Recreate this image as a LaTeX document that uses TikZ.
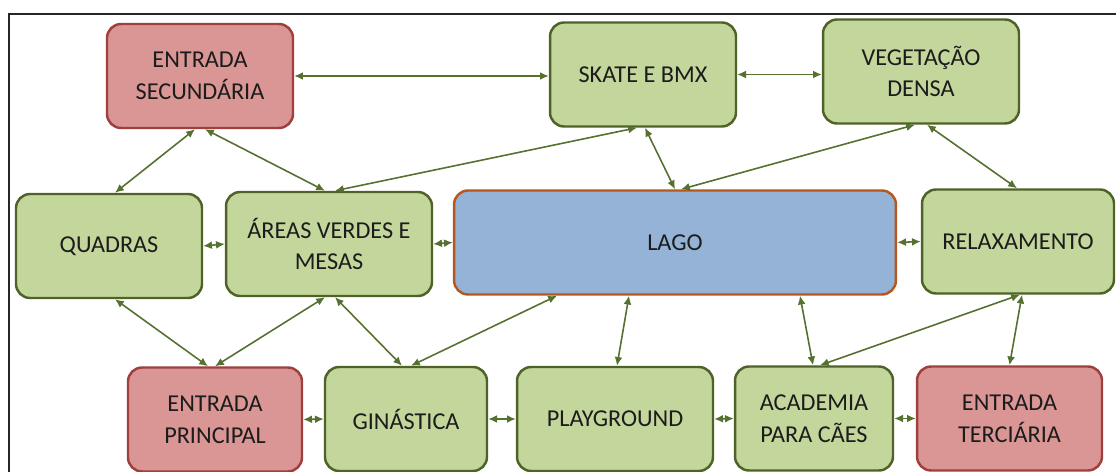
\documentclass[tikz,border=0pt]{standalone}
\usepackage{fontspec}
\setmainfont{Carlito}
\usetikzlibrary{arrows.meta, calc}
\definecolor{parkgreen}{HTML}{C3D69B}
\definecolor{parkedge}{HTML}{4F6228}
\definecolor{gatered}{HTML}{D99694}
\definecolor{gateedge}{HTML}{A0403E}
\definecolor{lakeblue}{HTML}{95B3D7}
\definecolor{lakeedge}{HTML}{B4581E}
\definecolor{linkgreen}{HTML}{56702F}
\definecolor{labeltext}{HTML}{1C1C1C}
\tikzset{
  area/.style={rounded corners=8pt, line width=1.4pt, align=center,
    inner sep=0pt, minimum height=2.08cm, text=labeltext,
    font=\fontsize{13.8pt}{18pt}\selectfont},
  greenbox/.style={area, draw=parkedge, fill=parkgreen},
  redbox/.style={area, draw=gateedge, fill=gatered},
  lakebox/.style={area, draw=lakeedge, fill=lakeblue},
  link/.style={{Latex[length=5pt,width=4.5pt]}-{Latex[length=5pt,width=4.5pt]},
    line width=0.9pt, linkgreen}
}
\begin{document}
\begin{tikzpicture}[x=0.02cm, y=-0.02cm]
  \useasboundingbox (0,0) rectangle (1116,472);
  % frame
  \draw[line width=1.2pt, black!85] (9,472) -- (9,14) -- (1116,14);

  % top row
  \node[redbox, minimum width=3.72cm] (esec) at (200,76) {ENTRADA\\SECUNDÁRIA};
  \node[greenbox, minimum width=3.72cm] (skate) at (643,74.5) {SKATE E BMX};
  \node[greenbox, minimum width=3.92cm] (veg) at (921,71.5) {VEGETAÇÃO\\DENSA};

  % middle row
  \node[greenbox, minimum width=3.72cm] (quad) at (109,246) {QUADRAS};
  \node[greenbox, minimum width=4.12cm] (areas) at (329,244) {ÁREAS VERDES E\\MESAS};
  \node[lakebox, minimum width=8.84cm] (lago) at (675,242.5) {LAGO};
  \node[greenbox, minimum width=3.84cm] (relax) at (1018,241.5) {RELAXAMENTO};

  % bottom row
  \node[redbox, minimum width=3.48cm] (eprin) at (215,419.5) {ENTRADA\\PRINCIPAL};
  \node[greenbox, minimum width=3.24cm] (gin) at (406,419) {GINÁSTICA};
  \node[greenbox, minimum width=3.92cm] (play) at (615,419) {PLAYGROUND};
  \node[greenbox, minimum width=3.16cm] (acad) at (814,418.5) {ACADEMIA\\PARA CÃES};
  \node[redbox, minimum width=3.70cm] (eterc) at (1009.5,418.5) {ENTRADA\\TERCIÁRIA};

  % links from the top row
  \draw[link] (esec.east) -- (skate.west |- esec.east);
  \draw[link] (skate.east) -- (veg.west |- skate.east);
  \draw[link] ($(esec.south)+(-5,0)$) -- ($(quad.north)+(6,0)$);
  \draw[link] ($(esec.south)+(5,0)$) -- ($(areas.north)+(-4,0)$);
  \draw[link] ($(skate.south)+(-6,0)$) -- ($(areas.north)+(6,0)$);
  \draw[link] ($(skate.south)+(2,0)$) -- (lago.north);
  \draw[link] ($(veg.south)+(-6,0)$) -- ($(lago.north)+(6,0)$);
  \draw[link] ($(veg.south)+(6,0)$) -- ($(relax.north)+(-1,0)$);

  % links in the middle row
  \draw[link] (quad.east) -- (areas.west);
  \draw[link] (areas.east) -- (lago.west);
  \draw[link] (lago.east) -- (relax.west);

  % links down to the bottom row
  \draw[link] ($(quad.south)+(6,0)$) -- ($(eprin.north)+(-7,0)$);
  \draw[link] ($(areas.south)+(-4,0)$) -- (eprin.north);
  \draw[link] ($(areas.south)+(6,0)$) -- ($(gin.north)+(-4,0)$);
  \draw[link] ($(lago.south)+(-118,0)$) -- ($(gin.north)+(5,0)$);
  \draw[link] ($(lago.south)+(-46,0)$) -- ($(play.north)+(2,0)$);
  \draw[link] ($(lago.south)+(125,0)$) -- ($(acad.north)+(-1,0)$);
  \draw[link] ($(relax.south)+(2,0)$) -- ($(acad.north)+(6,0)$);
  \draw[link] ($(relax.south)+(4,0)$) -- (eterc.north);

  % links in the bottom row
  \draw[link] (eprin.east) -- (gin.west);
  \draw[link] (gin.east) -- (play.west);
  \draw[link] (play.east) -- (acad.west);
  \draw[link] (acad.east) -- (eterc.west);
\end{tikzpicture}
\end{document}
